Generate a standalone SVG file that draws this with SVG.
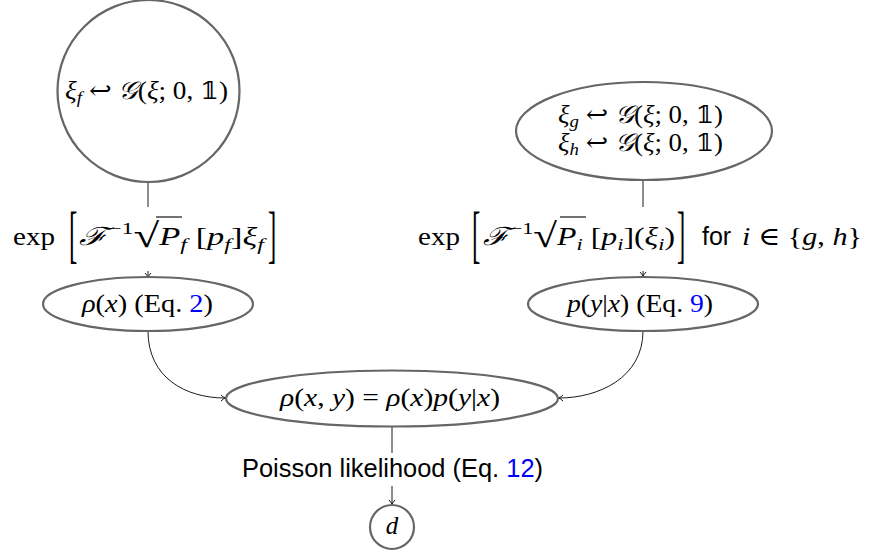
<svg xmlns="http://www.w3.org/2000/svg" width="873" height="552" viewBox="0 0 873 552">
<style>
.node{fill:#fff;stroke:#666;stroke-width:2.2}
.m{font-family:"Liberation Serif","DejaVu Serif",serif;font-size:25px;fill:#000}
.s{font-family:"Liberation Sans",Arial,sans-serif;font-size:25px;fill:#000}
.i{font-style:italic}
.sub{font-size:17.5px;font-style:italic}
.sup{font-size:17.5px}
.rad{font-size:34px}
.blue{fill:#0000ff}
.c{fill:none;stroke:#000;stroke-width:0.9}
.rule{stroke:#000;stroke-width:1.1}
</style>
<defs>
<marker id="ah" viewBox="-5 -4 6 8" markerWidth="6" markerHeight="8" refX="0" refY="0" orient="auto" markerUnits="userSpaceOnUse">
<path d="M-4,-3 Q-1.5,-0.8 0,0 Q-1.5,0.8 -4,3" fill="none" stroke="#000" stroke-width="0.9"/>
</marker>
</defs>
<g id="connectors">
<line class="c" x1="148" y1="182" x2="148" y2="207"/>
<line class="c" x1="148" y1="271" x2="148" y2="277" marker-end="url(#ah)"/>
<line class="c" x1="643" y1="180" x2="643" y2="207"/>
<line class="c" x1="643" y1="271" x2="643" y2="276" marker-end="url(#ah)"/>
<path class="c" d="M148,331 C148,378 186,398 225,398" marker-end="url(#ah)"/>
<path class="c" d="M643,331 C643,378 598,398 559,398" marker-end="url(#ah)"/>
<line class="c" x1="392" y1="427" x2="392" y2="453"/>
<line class="c" x1="392" y1="486" x2="392" y2="504" marker-end="url(#ah)"/>
</g>
<g id="xi_f">
<circle class="node" cx="148.5" cy="91" r="91"/>
<text class="m" x="65" y="99" textLength="163" lengthAdjust="spacingAndGlyphs"><tspan class="i">ξ</tspan><tspan class="sub" dy="4">f</tspan><tspan dy="-4"> ↩ </tspan><tspan class="i">𝒢</tspan>(<tspan class="i">ξ</tspan>; 0, 𝟙)</text>
</g>
<g id="xi_gh">
<ellipse class="node" cx="644" cy="131" rx="128" ry="49"/>
<text class="m" x="558" y="123" textLength="165" lengthAdjust="spacingAndGlyphs"><tspan class="i">ξ</tspan><tspan class="sub" dy="4">g</tspan><tspan dy="-4"> ↩ </tspan><tspan class="i">𝒢</tspan>(<tspan class="i">ξ</tspan>; 0, 𝟙)</text>
<text class="m" x="558" y="151" textLength="165" lengthAdjust="spacingAndGlyphs"><tspan class="i">ξ</tspan><tspan class="sub" dy="4">h</tspan><tspan dy="-4"> ↩ </tspan><tspan class="i">𝒢</tspan>(<tspan class="i">ξ</tspan>; 0, 𝟙)</text>
</g>
<g id="exp_f">
<text class="m" x="13" y="245" textLength="42" lengthAdjust="spacingAndGlyphs">exp</text>
<text class="m" transform="translate(69,255) scale(1,2.5)">[</text>
<text class="m" x="79" y="245" textLength="185" lengthAdjust="spacingAndGlyphs"><tspan class="i">ℱ</tspan><tspan class="sup" dy="-11">−1</tspan><tspan class="rad" dy="13">√</tspan><tspan class="i" dy="-2">P</tspan><tspan class="sub" dy="5">f</tspan><tspan dy="-5"> [</tspan><tspan class="i">p</tspan><tspan class="sub" dy="5">f</tspan><tspan dy="-5">]</tspan><tspan class="i">ξ</tspan><tspan class="sub" dy="5">f</tspan></text>
<line class="rule" x1="156" y1="217" x2="182" y2="217"/>
<text class="m" transform="translate(268,255) scale(1,2.5)">]</text>
</g>
<g id="exp_i">
<text class="m" x="418" y="245" textLength="42" lengthAdjust="spacingAndGlyphs">exp</text>
<text class="m" transform="translate(472,255) scale(1,2.5)">[</text>
<text class="m" x="483" y="245" textLength="192" lengthAdjust="spacingAndGlyphs"><tspan class="i">ℱ</tspan><tspan class="sup" dy="-11">−1</tspan><tspan class="rad" dy="13">√</tspan><tspan class="i" dy="-2">P</tspan><tspan class="sub" dy="5">i</tspan><tspan dy="-5"> [</tspan><tspan class="i">p</tspan><tspan class="sub" dy="5">i</tspan><tspan dy="-5">](</tspan><tspan class="i">ξ</tspan><tspan class="sub" dy="5">i</tspan><tspan dy="-5">)</tspan></text>
<line class="rule" x1="560" y1="217" x2="586" y2="217"/>
<text class="m" transform="translate(677,255) scale(1,2.5)">]</text>
<text class="s" x="702" y="245">for</text>
<text class="m" x="742" y="245" textLength="120" lengthAdjust="spacingAndGlyphs"><tspan class="i">i</tspan> ∈ {<tspan class="i">g</tspan>, <tspan class="i">h</tspan>}</text>
</g>
<g id="rho_x">
<ellipse class="node" cx="148" cy="304" rx="105" ry="27"/>
<text class="m" x="82" y="312" textLength="131" lengthAdjust="spacingAndGlyphs"><tspan class="i">ρ</tspan>(<tspan class="i">x</tspan>) (Eq. <tspan class="blue">2</tspan>)</text>
</g>
<g id="p_yx">
<ellipse class="node" cx="643" cy="304" rx="115" ry="27"/>
<text class="m" x="567" y="312" textLength="146" lengthAdjust="spacingAndGlyphs"><tspan class="i">p</tspan>(<tspan class="i">y</tspan>|<tspan class="i">x</tspan>) (Eq. <tspan class="blue">9</tspan>)</text>
</g>
<g id="rho_xy">
<ellipse class="node" cx="392" cy="398.5" rx="166" ry="28"/>
<text class="m" x="280" y="406" textLength="220" lengthAdjust="spacingAndGlyphs"><tspan class="i">ρ</tspan>(<tspan class="i">x</tspan>, <tspan class="i">y</tspan>) = <tspan class="i">ρ</tspan>(<tspan class="i">x</tspan>)<tspan class="i">p</tspan>(<tspan class="i">y</tspan>|<tspan class="i">x</tspan>)</text>
</g>
<g id="likelihood_label">
<text class="s" x="242" y="477" textLength="301" lengthAdjust="spacingAndGlyphs">Poisson likelihood (Eq. <tspan class="blue">12</tspan>)</text>
</g>
<g id="d">
<circle class="node" cx="392" cy="527" r="22"/>
<text class="m i" x="392" y="534" text-anchor="middle">d</text>
</g>
</svg>
